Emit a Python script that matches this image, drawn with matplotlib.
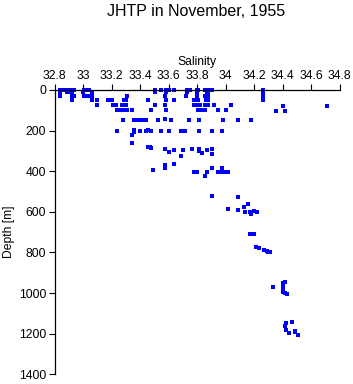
import matplotlib
matplotlib.use("Agg")
import matplotlib.pyplot as plt

plt.rcParams['font.family'] = ['Liberation Sans', 'DejaVu Sans']

title = "JHTP in November, 1955"
x_label = "Salinity"
y_label = "Depth [m]"
x_ticks = [32.8, 33.0, 33.2, 33.4, 33.6, 33.8, 34.0, 34.2, 34.4, 34.6, 34.8]
x_tick_labels = ["32.8", "33", "33.2", "33.4", "33.6", "33.8", "34", "34.2", "34.4", "34.6", "34.8"]
y_ticks = [0, 200, 400, 600, 800, 1000, 1200, 1400]

salinity = [
    # ~0 m
    32.84, 32.853, 32.87, 32.88, 32.888, 32.90, 32.91, 32.923, 32.935, 32.94,
    33.01, 33.02, 33.03, 33.045, 33.505, 33.547, 33.58, 33.59, 33.603, 33.639,
    33.728, 33.74, 33.751, 33.798, 33.81, 33.856, 33.87, 33.88, 33.89, 33.907, 34.265,
    # ~10 m
    32.84, 32.888, 32.90, 32.92, 33.0, 33.06, 33.505, 33.58, 33.728, 33.798, 33.87, 33.88, 34.265,
    # ~30 m
    32.84, 32.923, 32.935, 33.01, 33.02, 33.03, 33.045, 33.06, 33.31, 33.575, 33.72, 33.798, 33.858, 33.88, 34.265,
    # ~50 m
    32.92, 33.06, 33.10, 33.175, 33.186, 33.20, 33.29, 33.30, 33.458, 33.58, 33.64, 33.78, 33.81, 33.86, 33.88, 34.265,
    # ~75 m
    33.10, 33.21, 33.22, 33.235, 33.274, 33.286, 33.30, 33.505, 33.575, 33.78, 33.79, 33.81, 33.82, 33.856, 33.87, 33.88, 33.92, 34.04, 34.40, 34.71,
    # ~100 m
    33.24, 33.25, 33.26, 33.274, 33.286, 33.30, 33.31, 33.344, 33.48, 33.58, 33.81, 33.82, 33.835, 33.858, 33.95, 34.0, 34.355, 34.42,
    # ~150 m
    33.28, 33.36, 33.37, 33.38, 33.39, 33.40, 33.41, 33.42, 33.43, 33.444, 33.526, 33.578, 33.62, 33.746, 33.816, 33.98, 34.09, 34.177,
    # ~200 m
    33.24, 33.36, 33.36, 33.40, 33.444, 33.458, 33.48, 33.55, 33.60, 33.69, 33.70, 33.714, 33.816, 33.907, 33.978,
    # 220 - 330 m
    33.344, 33.346, 33.458, 33.47, 33.477, 33.578, 33.60, 33.64, 33.70, 33.69, 33.767, 33.816, 33.816, 33.837, 33.868, 33.907, 33.907,
    # ~370 - 420 m
    33.49, 33.578, 33.578, 33.64, 33.78, 33.793, 33.80, 33.868, 33.858, 33.907, 33.978, 33.95, 33.978, 33.99, 34.0, 34.02,
    # ~500 - 620 m
    33.907, 34.09, 34.16, 34.13, 34.02, 34.09, 34.14, 34.17, 34.18, 34.20, 34.22, 34.177,
    # ~700 - 800 m
    34.17, 34.19, 34.20, 34.216, 34.237, 34.27, 34.29, 34.30, 34.31,
    # ~950 - 1000 m
    34.418, 34.406, 34.335, 34.40, 34.40, 34.40, 34.40, 34.42, 34.43,
    # ~1150 - 1200 m
    34.47, 34.425, 34.418, 34.425, 34.448, 34.488, 34.488, 34.507,
]

depth = [
    0, 0, 0, 0, 0, 0, 0, 0, 0, 0,
    0, 0, 0, 0, 0, 0, 0, 0, 0, 0,
    0, 0, 0, 0, 0, 0, 0, 0, 0, 0, 0,
    10, 10, 10, 10, 10, 10, 10, 10, 10, 10, 10, 10, 10,
    30, 30, 30, 30, 30, 30, 30, 30, 30, 30, 30, 30, 30, 30, 30,
    50, 50, 50, 50, 50, 50, 50, 50, 50, 50, 50, 50, 50, 50, 50, 50,
    75, 75, 75, 75, 75, 75, 75, 75, 75, 75, 75, 75, 75, 75, 75, 75, 75, 75, 77, 77,
    100, 100, 100, 100, 100, 100, 100, 100, 100, 100, 100, 100, 100, 100, 100, 100, 103, 103,
    150, 150, 150, 150, 150, 150, 150, 150, 150, 150, 150, 145, 150, 150, 150, 150, 150, 150,
    200, 195, 205, 200, 200, 198, 200, 200, 200, 200, 200, 200, 200, 200, 200,
    223, 263, 282, 282, 284, 293, 303, 295, 296, 325, 292, 292, 300, 312, 296, 292, 317,
    395, 370, 382, 366, 404, 404, 404, 405, 423, 385, 385, 405, 405, 405, 405, 405,
    523, 528, 563, 578, 587, 591, 599, 600, 605, 595, 600, 612,
    710, 710, 710, 775, 777, 790, 795, 800, 800,
    944, 949, 968, 965, 975, 990, 995, 1001, 1006,
    1144, 1149, 1160, 1182, 1195, 1187, 1192, 1206,
]

fig = plt.figure(figsize=(3.53, 3.84), dpi=100)
ax = fig.add_axes([54.5 / 353, 1 - 374.3 / 384, 285 / 353, 284.3 / 384])

ax.plot(salinity, depth, linestyle='none', marker='s', markersize=2.2,
        markeredgewidth=0, color='#0000ff', clip_on=False, antialiased=False)

ax.set_xlim(32.8, 34.8)
ax.set_ylim(1400, 0)
ax.xaxis.tick_top()
ax.xaxis.set_label_position('top')
ax.set_xticks(x_ticks)
ax.set_xticklabels(x_tick_labels)
ax.set_yticks(y_ticks)
ax.tick_params(axis='both', direction='out', length=4, width=0.8, labelsize=8.7, pad=2, color='black')
ax.spines['right'].set_visible(False)
ax.spines['bottom'].set_visible(False)
ax.spines['top'].set_linewidth(0.9)
ax.spines['left'].set_linewidth(0.9)

ax.set_xlabel(x_label, fontsize=8.7, labelpad=3)
ax.set_ylabel(y_label, fontsize=8.7, labelpad=3)
fig.text(196.5 / 353, 1 - 12 / 384, title, ha='center', va='center', fontsize=11.5)

fig.savefig('out.png', dpi=100)
